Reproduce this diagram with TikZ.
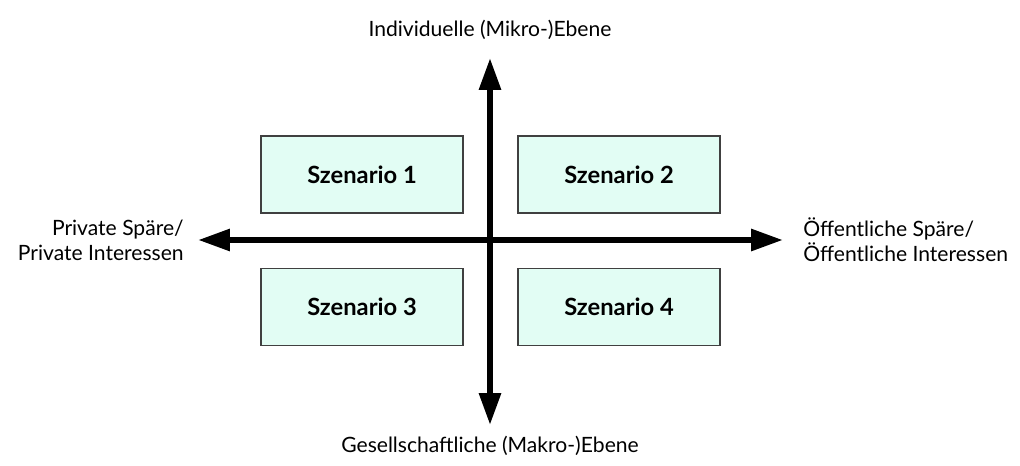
\documentclass[tikz,border=0pt]{standalone}
\usepackage{fontspec}
\setmainfont{Lato}
\usetikzlibrary{arrows.meta,positioning}

\definecolor{mint}{HTML}{E2FDF4}

\begin{document}
\begin{tikzpicture}[
    x=0.02cm, y=-0.02cm,
    scenario/.style={rectangle, draw=black!75, fill=mint, line width=0.7pt, minimum width=4.04cm, minimum height=1.54cm, font=\fontsize{13.5}{15}\selectfont\bfseries},
    label/.style={font=\fontsize{12}{14.3}\selectfont, inner sep=0pt},
    axis/.style={-{Triangle[length=0.64cm, width=0.42cm]}, line width=3.4pt}
]
\useasboundingbox (0,0) rectangle (1020,466);

% Axis end points
\coordinate (C) at (490,240);
\coordinate (T) at (490,58);
\coordinate (B) at (490,425);
\coordinate (L) at (198,240);
\coordinate (R) at (783,240);

% Scenario boxes
\node[scenario] (S1) at (362,174.5) {Szenario 1};
\node[scenario] (S2) at (619,174.5) {Szenario 2};
\node[scenario] (S3) at (362,307) {Szenario 3};
\node[scenario] (S4) at (619,307) {Szenario 4};

% Axes
\draw[axis] (C) -- (T);
\draw[axis] (C) -- (B);
\draw[axis] (C) -- (L);
\draw[axis] (C) -- (R);

% Axis labels
\node[label] (top) at (490,30) {Individuelle (Mikro-)Ebene};
\node[label] (bottom) at (490,446) {Gesellschaftliche (Makro-)Ebene};
\node[label, anchor=east, align=right] (left) at (184,240) {Private Späre/\\Private Interessen};
\node[label, anchor=west, align=left] (right) at (803,240) {Öffentliche Späre/\\Öffentliche Interessen};

\end{tikzpicture}
\end{document}
